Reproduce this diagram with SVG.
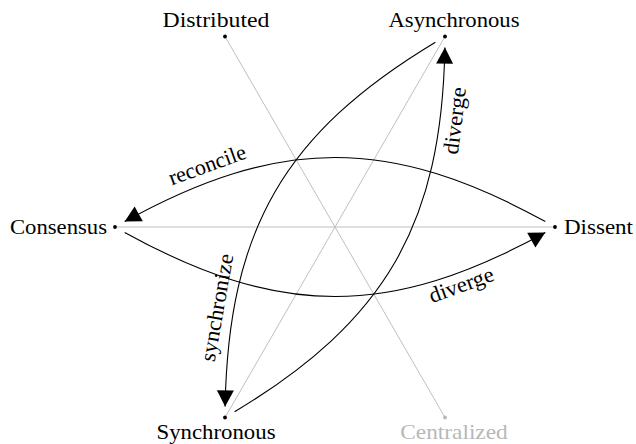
<svg xmlns="http://www.w3.org/2000/svg" width="636" height="444" viewBox="0 0 636 444">
<style>
text{font-family:"Liberation Serif","Times New Roman",serif;font-size:22px;fill:#000}
.axis{stroke:#b8b8b8;stroke-width:0.9;fill:none}
.edge{stroke:#000;stroke-width:1.1;fill:none}
.arrow{marker-end:url(#ah)}
.dot{fill:#000}
.muted .dot{fill:#b8b8b8}
.muted text{fill:#b8b8b8}
</style>
<defs>
<marker id="ah" markerUnits="userSpaceOnUse" orient="auto" overflow="visible" markerWidth="20" markerHeight="20" refX="0" refY="0">
<path d="M0,0 L-16,-8.5 L-16,8.5 Z" fill="#000"/>
</marker>
</defs>
<g id="axes">
<line class="axis" x1="115" y1="227" x2="555" y2="227"/>
<line class="axis" x1="225" y1="36.5" x2="445" y2="417.5"/>
<line class="axis" x1="445" y1="36.5" x2="225" y2="417.5"/>
</g>
<g id="connectors">
<path class="edge arrow" d="M545.3,221.6 C390.7,136.1 279.3,136.1 124.7,221.6"/>
<path class="edge arrow" d="M124.7,232.4 C279.3,317.9 390.7,317.9 545.3,232.4"/>
<path class="edge arrow" d="M435.4,42.2 C284.1,133.3 228.4,229.8 225.1,406.4"/>
<path class="edge arrow" d="M234.6,411.8 C385.9,320.7 441.6,224.2 444.9,47.6"/>
<text transform="translate(208,167) rotate(-20)" x="0" y="5" text-anchor="middle" textLength="81" lengthAdjust="spacingAndGlyphs">reconcile</text>
<text transform="translate(462,287) rotate(-20)" x="0" y="5" text-anchor="middle" textLength="67.5" lengthAdjust="spacingAndGlyphs">diverge</text>
<text transform="translate(219,308) rotate(-80)" x="0" y="5" text-anchor="middle" textLength="109" lengthAdjust="spacingAndGlyphs">synchronize</text>
<text transform="translate(457,121) rotate(-83)" x="0" y="5" text-anchor="middle" textLength="67.5" lengthAdjust="spacingAndGlyphs">diverge</text>
</g>
<g id="distributed">
<circle class="dot" cx="225" cy="36.5" r="1.9"/>
<text x="216" y="27" text-anchor="middle" textLength="107" lengthAdjust="spacingAndGlyphs">Distributed</text>
</g>
<g id="asynchronous">
<circle class="dot" cx="445" cy="36.5" r="1.9"/>
<text x="454" y="27" text-anchor="middle" textLength="131" lengthAdjust="spacingAndGlyphs">Asynchronous</text>
</g>
<g id="consensus">
<circle class="dot" cx="115" cy="227" r="1.9"/>
<text x="107" y="234" text-anchor="end" textLength="97" lengthAdjust="spacingAndGlyphs">Consensus</text>
</g>
<g id="dissent">
<circle class="dot" cx="555" cy="227" r="1.9"/>
<text x="564" y="234" text-anchor="start" textLength="69" lengthAdjust="spacingAndGlyphs">Dissent</text>
</g>
<g id="synchronous">
<circle class="dot" cx="225" cy="417.5" r="1.9"/>
<text x="216" y="439" text-anchor="middle" textLength="119" lengthAdjust="spacingAndGlyphs">Synchronous</text>
</g>
<g id="centralized" class="muted">
<circle class="dot" cx="445" cy="417.5" r="1.9"/>
<text x="454" y="439" text-anchor="middle" textLength="107.5" lengthAdjust="spacingAndGlyphs">Centralized</text>
</g>
</svg>
